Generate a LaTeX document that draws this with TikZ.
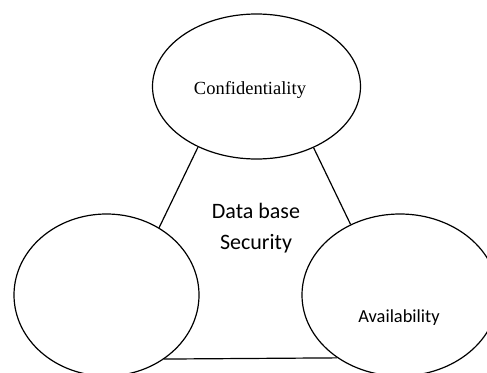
\documentclass[tikz,border=0pt]{standalone}
\usepackage{fontspec}
\setmainfont{Carlito}
\newfontfamily\timesfont{Liberation Serif}
\usetikzlibrary{shapes.geometric}

\begin{document}
\begin{tikzpicture}[x=1pt,y=-1pt,line width=1.2pt,
    goal/.style={draw,ellipse,inner sep=0pt},
    goaltext/.style={anchor=base,inner sep=0pt}]
  \useasboundingbox (0,0) rectangle (487,372);
  % the three security goals
  \node[goal,minimum width=208pt,minimum height=145pt] (conf) at (256.5,86.5) {};
  \node[goal,minimum width=185pt,minimum height=162pt] (integ) at (106.5,295) {};
  \node[goal,minimum width=196pt,minimum height=162pt] (avail) at (400,295) {};
  % labels
  \node[goaltext,font=\timesfont\fontsize{18.5}{22}\selectfont] (conftxt) at (250,94) {Confidentiality};
  \node[goaltext,font=\fontsize{18.4}{22}\selectfont] (availtxt) at (399,322) {Availability};
  \node[goaltext,align=center,font=\fontsize{22}{31}\selectfont] (dbsec) at (256,249) {Data base\\ Security};
  % links
  \draw (conf.226) -- (integ.52);
  \draw (conf.313) -- (avail.125);
  \draw (integ.312) -- (avail.225);
\end{tikzpicture}
\end{document}
